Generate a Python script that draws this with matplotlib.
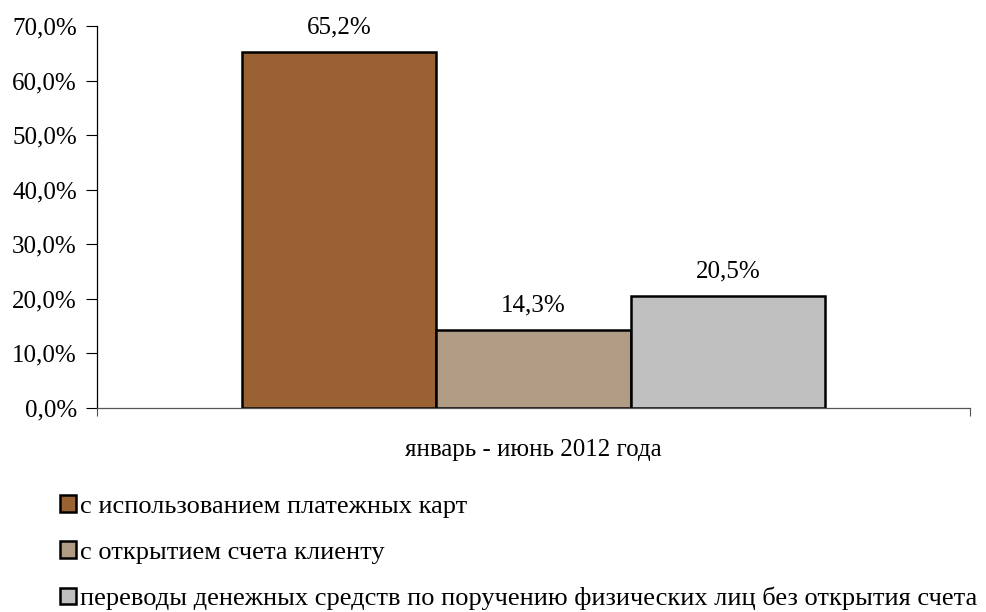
import matplotlib
matplotlib.use('Agg')
import matplotlib.pyplot as plt
import matplotlib.ticker as ticker
from matplotlib.patches import Patch

plt.rcParams['font.family'] = ['Liberation Serif', 'DejaVu Serif']

# --- данные ---
category = 'январь - июнь 2012 года'
series_names = [
    'с использованием платежных карт',
    'с открытием счета клиенту',
    'переводы денежных средств по поручению физических лиц без открытия счета',
]
values = [65.2, 14.3, 20.5]
colors = ['#9a6233', '#b09b84', '#c0c0c0']
yticks = [0, 10, 20, 30, 40, 50, 60, 70]

fig = plt.figure(figsize=(9.87, 6.12), dpi=100)
ax = fig.add_axes([97 / 987, 1 - 408 / 612, 873 / 987, 382 / 612])

w = 0.2228
offsets = [-w, 0, w]
for v, c, off in zip(values, colors, offsets):
    ax.bar(off, v, width=w, color=c, edgecolor='black', linewidth=1.8)
    ax.text(off, v + 2.5, f"{v:.1f}%".replace('.', ','), ha='center', va='bottom', fontsize=18)

ax.set_xlim(-0.5, 0.5)
ax.set_ylim(0, 70)
ax.set_yticks(yticks)
ax.yaxis.set_major_formatter(ticker.FuncFormatter(lambda x, p: f"{x:.1f}%".replace('.', ',')))
ax.tick_params(axis='y', labelsize=18, length=8, width=0.8, direction='out', pad=6.5)
ax.set_xticks([-0.5, 0.5])
ax.set_xticklabels(['', ''])
ax.tick_params(axis='x', length=6, width=0.8, color='#555555')
ax.text(0, -5.6, category, ha='center', va='top', fontsize=18)

for s in ['top', 'right']:
    ax.spines[s].set_visible(False)
ax.spines['left'].set_linewidth(0.9)
ax.spines['bottom'].set_color('#555555')
ax.spines['bottom'].set_linewidth(0.9)

handles = [Patch(facecolor=c, edgecolor='black', linewidth=1.8) for c in colors]
fig.legend(handles, series_names, loc='upper left', bbox_to_anchor=(60 / 987, 1 - 495 / 612),
           frameon=False, fontsize=19, handlelength=0.6, handleheight=0.6, handletextpad=0.15,
           labelspacing=0.88, borderaxespad=0, borderpad=0)

fig.savefig('out.png', dpi=100)
